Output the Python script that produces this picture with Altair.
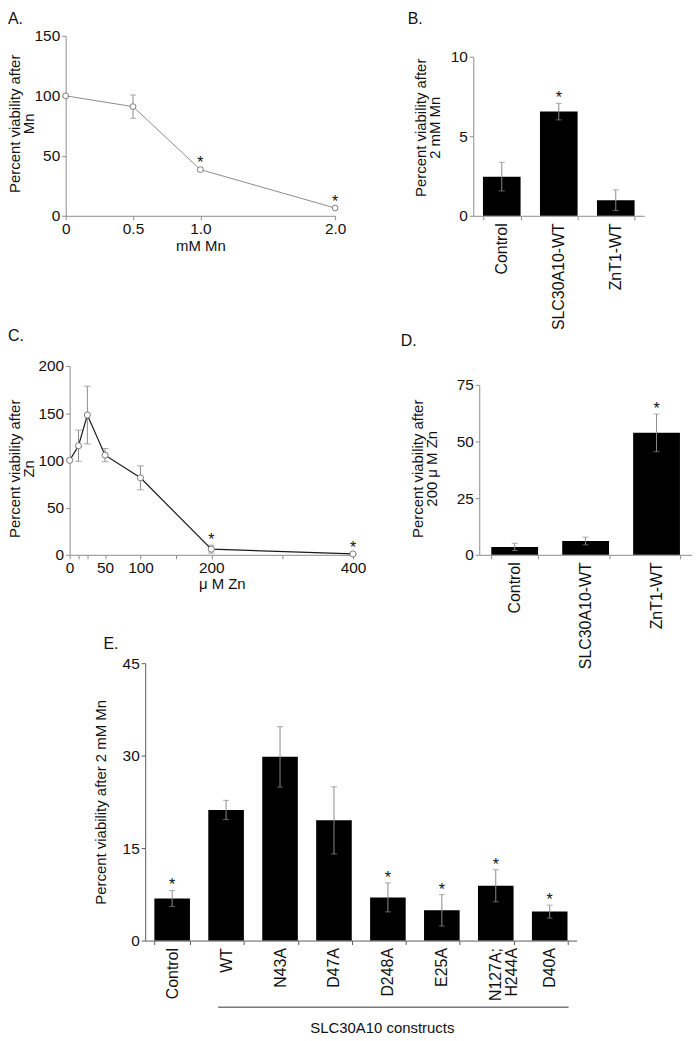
import altair as alt
import pandas as pd

FONT = "Liberation Sans"
AX = "#8c8c8c"
ERRC = "#8a8a8a"
TXT = "#111111"

# ---------------- data ----------------
# Panel A: viability vs Mn (mM)
a_conc = [0, 0.5, 1.0, 2.0]
a_mean = [100, 91, 38.5, 6.5]
a_err = [1.0, 9.7, 1.6, 1.0]
a_star = [0, 0, 1, 1]
a_ticks = [0, 0.5, 1.0, 2.0]

# Panel B: viability after 2 mM Mn
b_cat = ["Control", "SLC30A10-WT", "ZnT1-WT"]
b_mean = [2.46, 6.55, 0.98]
b_err = [0.9, 0.52, 0.65]
b_star = [0, 1, 0]

# Panel C: viability vs Zn (uM)
c_conc = [0, 12.5, 25, 50, 100, 200, 400]
c_mean = [100, 115.5, 148, 105.5, 81.5, 6, 1]
c_err = [1.0, 16.5, 30.5, 7.0, 12.7, 4.2, 0.8]
c_star = [0, 0, 0, 0, 0, 1, 1]
c_ticks = [0, 12.5, 25, 50, 100, 150, 200, 300, 400]
c_labels = [0, 50, 100, 200, 400]

# Panel D: viability after 200 uM Zn
d_cat = ["Control", "SLC30A10-WT", "ZnT1-WT"]
d_mean = [3.5, 6.1, 53.8]
d_err = [1.6, 1.7, 8.3]
d_star = [0, 0, 1]

# Panel E: SLC30A10 constructs after 2 mM Mn
e_cat = ["Control", "WT", "N43A", "D47A", "D248A", "E25A", "N127A; H244A", "D40A"]
e_mean = [6.83, 21.2, 29.8, 19.5, 7.0, 4.9, 8.9, 4.7]
e_err = [1.3, 1.55, 4.9, 5.45, 2.35, 2.55, 2.6, 1.05]
e_star = [1, 0, 0, 0, 1, 1, 1, 1]
e_group = ["WT", "D40A"]


def frame(xs, m, e, s, key):
    return pd.DataFrame({
        key: xs,
        "m": m,
        "lo": [a - b for a, b in zip(m, e)],
        "hi": [a + b for a, b in zip(m, e)],
        "star": s,
    })


def title(text, dx, offset=0, dy=0):
    return alt.TitleParams(text, anchor="start", frame="group", dx=dx, dy=dy,
                           offset=offset, fontSize=16, font=FONT,
                           fontWeight="normal", color=TXT)


def err_layers(base, X, sy, yax, cap):
    rule = base.mark_rule(color=ERRC, strokeWidth=1).encode(
        x=X, y=alt.Y("lo:Q", scale=sy, axis=yax), y2="hi:Q")
    hi = base.mark_tick(color=ERRC, orient="horizontal", size=cap, thickness=1).encode(
        x=X, y=alt.Y("hi:Q", scale=sy, axis=yax))
    lo = base.mark_tick(color=ERRC, orient="horizontal", size=cap, thickness=1).encode(
        x=X, y=alt.Y("lo:Q", scale=sy, axis=yax))
    return [rule, hi, lo]


def star_layer(base, X, sy, yax):
    return base.transform_filter("datum.star == 1").mark_text(
        text="*", fontSize=16, font=FONT, baseline="alphabetic", color=TXT
    ).encode(x=X, y=alt.Y("hi:Q", scale=sy, axis=yax))


# ---------------- Panel A ----------------
dfa = frame(a_conc, a_mean, a_err, a_star, "x")
sxa = alt.Scale(domain=[0, 2], nice=False, zero=False)
sya = alt.Scale(domain=[0, 150], nice=False)
axa = alt.Axis(values=a_ticks, title="mM Mn", titlePadding=1,
               labelExpr="datum.value == 0 ? '0' : format(datum.value, '.1f')")
aya = alt.Axis(values=[0, 50, 100, 150], title=["Percent viability after", "Mn"],
               titleX=-43, titleY=88)
XA = alt.X("x:Q", scale=sxa, axis=axa)
baseA = alt.Chart(dfa)
A = alt.layer(
    *err_layers(baseA, XA, sya, aya, 6),
    baseA.mark_line(color="#8c8c8c", strokeWidth=1).encode(
        x=XA, y=alt.Y("m:Q", scale=sya, axis=aya)),
    baseA.mark_circle(color="white", stroke="#7a7a7a", strokeWidth=1, size=34, opacity=1).encode(
        x=XA, y=alt.Y("m:Q", scale=sya, axis=aya)),
    star_layer(baseA, XA, sya, aya),
).properties(width=271, height=181, title=title("A.", dx=-58, offset=1.5))

# ---------------- Panel C ----------------
dfc = frame(c_conc, c_mean, c_err, c_star, "x")
sxc = alt.Scale(domain=[0, 400], nice=False, zero=False, range=[4, 289])
syc = alt.Scale(domain=[0, 200], nice=False, range=[232, 42])
axc = alt.Axis(values=c_ticks, title="\u03bc M Zn", titleX=157, titlePadding=0,
               labelExpr="indexof(%s, datum.value) >= 0 ? datum.label : ''" % str(c_labels))
ayc = alt.Axis(values=[0, 50, 100, 150, 200], title=["Percent viability after", "Zn"],
               titleX=-47, titleY=145, offset=-4)
XC = alt.X("x:Q", scale=sxc, axis=axc)
baseC = alt.Chart(dfc)
C = alt.layer(
    *err_layers(baseC, XC, syc, ayc, 7),
    baseC.mark_line(color="#1a1a1a", strokeWidth=1.2).encode(
        x=XC, y=alt.Y("m:Q", scale=syc, axis=ayc)),
    baseC.mark_circle(color="white", stroke="#7a7a7a", strokeWidth=1, size=38, opacity=1).encode(
        x=XC, y=alt.Y("m:Q", scale=syc, axis=ayc)),
    star_layer(baseC, XC, syc, ayc),
).properties(width=289, height=232, title=title("C.", dx=-58, offset=0, dy=20))


# ---------------- bar panels ----------------
def bar_panel(cats, m, e, s, ydom, yvals, yrange, ytitle,
              title_x, title_y, xrange=None, yoffset=0, xtitle=None,
              xtitle_x=None, xtitle_y=None, labelexpr=None, axis_color=AX):
    df = frame(cats, m, e, s, "cat")
    sc_args = dict(domain=cats, paddingInner=0.34, paddingOuter=0.17)
    if xrange is not None:
        sc_args["range"] = xrange
    sx = alt.Scale(**sc_args)
    ax_args = dict(labelAngle=-90, tickBand="extent", labelPadding=3, labelFontSize=16,
                   domainColor=axis_color, tickColor=axis_color, labelLineHeight=16)
    if xtitle is not None:
        ax_args.update(title=xtitle, titleX=xtitle_x, titleY=xtitle_y, titleBaseline="top")
    else:
        ax_args["title"] = None
    if labelexpr is not None:
        ax_args["labelExpr"] = labelexpr
    ax = alt.Axis(**ax_args)
    sy = alt.Scale(domain=ydom, nice=False, range=yrange)
    ay = alt.Axis(values=yvals, title=ytitle, titleX=title_x, titleY=title_y,
                  offset=yoffset, domainColor=axis_color, tickColor=axis_color)
    X = alt.X("cat:N", sort=cats, scale=sx, axis=ax)
    base = alt.Chart(df)
    layers = [base.mark_bar(color="black").encode(x=X, y=alt.Y("m:Q", scale=sy, axis=ay))]
    layers += err_layers(base, X, sy, ay, 6)
    layers.append(star_layer(base, X, sy, ay))
    return layers, X


# Panel B
lb, _ = bar_panel(b_cat, b_mean, b_err, b_star, [0, 10], [0, 5, 10],
                  [181, 21], ["Percent viability after", "2 mM Mn"], -45, 92)
B = alt.layer(*lb).properties(width=172, height=181, title=title("B.", dx=-66, offset=9))

# Panel D
ld, _ = bar_panel(d_cat, d_mean, d_err, d_star, [0, 75], [0, 25, 50, 75],
                  [232, 61], ["Percent viability after", "200 \u03bc M Zn"], -54, 145)
D = alt.layer(*ld).properties(width=214, height=232, title=title("D.", dx=-79, offset=0, dy=25))

# Panel E
le, XE = bar_panel(
    e_cat, e_mean, e_err, e_star, [0, 45], [0, 15, 30, 45], [330, 51],
    "Percent viability after 2 mM Mn", -37, 190.5, xrange=[80, 514], yoffset=-80,
    xtitle="SLC30A10 constructs", xtitle_x=318, xtitle_y=80,
    labelexpr="datum.value == 'N127A; H244A' ? ['N127A;', 'H244A'] : datum.value",
    axis_color="#5a5a5a")
grp = pd.DataFrame({"cat": [e_group[0]], "cat2": [e_group[1]]})
underline = alt.Chart(grp).mark_rule(color="#333333", strokeWidth=1, xOffset=-8, x2Offset=19).encode(
    x=XE, x2="cat2:N", y=alt.value(397))
E = alt.layer(*le, underline).properties(width=514, height=330, title=title("E.", dx=38, offset=0, dy=40))

row1 = alt.hconcat(A, B, spacing=139, bounds="flush")
row2 = alt.hconcat(C, D, spacing=127, bounds="flush")
chart = alt.vconcat(row1, row2, E, spacing=290, bounds="flush").properties(
    padding=0
).configure_view(stroke=None).configure_axis(
    labelFont=FONT, titleFont=FONT, labelFontSize=15.5, titleFontSize=15,
    titleFontWeight="normal", labelColor=TXT, titleColor=TXT,
    domainColor=AX, tickColor=AX, tickSize=4, labelPadding=2, grid=False,
    labelFlush=False, titleLineHeight=14, labelOverlap=False
)

chart.save("out.html", embed_options={"renderer": "svg", "actions": False})
